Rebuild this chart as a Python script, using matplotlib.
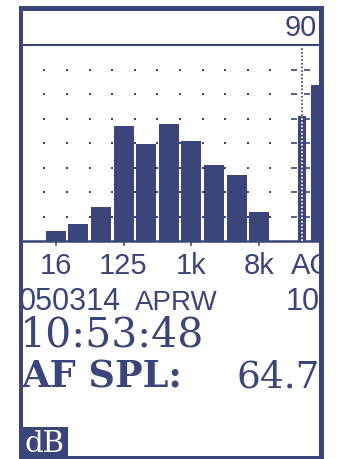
import numpy as np
import matplotlib
matplotlib.use("Agg")
import matplotlib.pyplot as plt
from matplotlib.patches import Rectangle

# ---------------- data ----------------
BANDS = ["16", "31.5", "63", "125", "250", "500", "1k", "2k", "4k", "8k"]
BAND_LEVELS = [14.1, 16.9, 24.0, 57.1, 49.6, 57.8, 50.9, 41.0, 37.1, 21.8]
TOTALS = ["A", "C"]
TOTAL_LEVELS = [60.9, 73.8]
TICK_LABELS = ["16", "125", "1k", "8k"]
TOTAL_LABEL = "AC"
GRID_LEVELS = [20, 30, 40, 50, 60, 70, 80]
RANGE_TOP = 90
RANGE_BOTTOM = 10
CURSOR_TOP = 88.8
DATE_TEXT = "050314"
MODE_TEXT = "APRW"
RANGE_TEXT = "10"
TIME_TEXT = "10:53:48"
MEAS_LABEL = "AF SPL:"
MEAS_VALUE = "64.7"
UNIT_TEXT = "dB"

NAVY = "#3c4579"
plt.rcParams["font.family"] = ["Liberation Sans", "DejaVu Sans"]

fig = plt.figure(figsize=(3.41, 4.60), dpi=100)
fig.patch.set_facecolor("white")

# ---------------- bar chart axes ----------------
W, H = 341.0, 460.0
ax = fig.add_axes([23 / W, 1 - 242 / H, 296 / W, 196 / H])
ax.patch.set_alpha(0)
ax.set_xlim(-1.447, 11.65)
ax.set_ylim(RANGE_BOTTOM, RANGE_TOP)

x = np.arange(len(BANDS))
lv = np.array(BAND_LEVELS)
ax.bar(x, lv - RANGE_BOTTOM, bottom=RANGE_BOTTOM, width=0.885,
       color=NAVY, linewidth=0, zorder=2)

tx = np.array([10.89, 11.47])
tl = np.array(TOTAL_LEVELS)
ax.bar(tx, tl - RANGE_BOTTOM, bottom=RANGE_BOTTOM, width=0.37,
       color=NAVY, linewidth=0, zorder=2)

# grid dots
cols = np.arange(len(BANDS) + 1) - 0.5
gx, gy = np.meshgrid(cols, GRID_LEVELS)
ax.plot(gx.ravel(), gy.ravel(), ls="none", marker="s", ms=1.8, mew=0,
        color=NAVY, zorder=3)
# short dashes near totals
for dx in (10.55, 11.14):
    ax.plot([dx] * len(GRID_LEVELS), GRID_LEVELS, ls="none", marker="_",
            ms=4.3, mew=1.2, color=NAVY, zorder=3)

# cursor (dotted) through the A bar
ax.plot([tx[0], tx[0]], [RANGE_BOTTOM, tl[0]], color="white", lw=1.2,
        ls=(0, (1.1, 1.1)), zorder=4)
ax.plot([tx[0], tx[0]], [tl[0], CURSOR_TOP], color=NAVY, lw=1.2,
        ls=(0, (1.1, 1.1)), zorder=4)

for s in ("left", "right", "top"):
    ax.spines[s].set_visible(False)
ax.spines["bottom"].set_color(NAVY)
ax.spines["bottom"].set_linewidth(1.8)
ax.set_yticks([])
tick_pos = [BANDS.index(t) for t in TICK_LABELS]
ax.set_xticks(tick_pos, labels=TICK_LABELS)
ax.set_xticks([11.3], labels=[TOTAL_LABEL], minor=True)
ax.tick_params(axis="x", which="major", direction="out", length=3.6,
               width=1.1, color=NAVY, pad=3.6, labelsize=21,
               labelcolor=NAVY)
ax.tick_params(axis="x", which="minor", length=0, pad=7.2, labelsize=21,
               labelcolor=NAVY)

# ---------------- overlay: frame, texts ----------------
ov = fig.add_axes([0, 0, 1, 1], zorder=5)
ov.set_xlim(0, W)
ov.set_ylim(H, 0)
ov.axis("off")
ov.patch.set_alpha(0)

txt_kw = dict(color=NAVY, va="baseline", zorder=3)
ov.text(317, 36, str(RANGE_TOP), ha="right", fontsize=21,
        family="Liberation Sans", **txt_kw)
ov.text(19, 310, DATE_TEXT, ha="left", fontsize=22,
        family="Liberation Sans", **txt_kw)
ov.text(135, 310, MODE_TEXT, ha="left", fontsize=20,
        family="Liberation Sans", **txt_kw)
ov.text(320, 310, RANGE_TEXT, ha="right", fontsize=22,
        family="Liberation Sans", **txt_kw)
ov.text(20, 347, TIME_TEXT, ha="left", fontsize=29.5,
        family="DejaVu Serif", **txt_kw)
ov.text(21, 388, MEAS_LABEL, ha="left", fontsize=26.5,
        family="DejaVu Serif", fontweight="bold", **txt_kw)
ov.text(320, 388, MEAS_VALUE, ha="right", fontsize=27,
        family="DejaVu Serif", **txt_kw)

# white masks outside frame
for r in [(0, 0, 19, H), (324, 0, W - 324, H), (0, 0, W, 7),
          (0, 459.5, W, 1)]:
    ov.add_patch(Rectangle((r[0], r[1]), r[2], r[3], facecolor="white",
                           edgecolor="none", zorder=10))
# frame
for r in [(19, 7, 4.3, 452), (19, 7, 305, 5.3), (319.3, 7, 4.7, 452),
          (19, 457, 305, 2.5), (23, 45.3, 296, 2)]:
    ov.add_patch(Rectangle((r[0], r[1]), r[2], r[3], facecolor=NAVY,
                           edgecolor="none", zorder=11))
ov.add_patch(Rectangle((19, 428), 49, 30, facecolor=NAVY, edgecolor="none",
                       zorder=11))
ov.text(44, 452, UNIT_TEXT, ha="center", va="baseline", fontsize=21,
        family="DejaVu Serif", color="white", zorder=12)

fig.savefig("out.png", dpi=100, facecolor="white")
